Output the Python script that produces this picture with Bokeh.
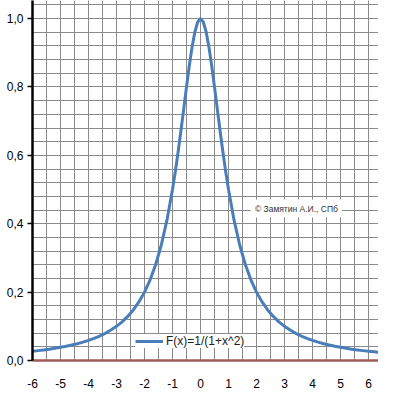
from bokeh.plotting import figure
from bokeh.models import FixedTicker, CustomJSTickFormatter, Legend, LegendItem, Label, Range1d
from bokeh.embed import file_html
from bokeh.resources import INLINE

# Data: F(x) = 1/(1+x^2)
x_vals = [-6.0, -5.8, -5.6, -5.4, -5.2, -5.0, -4.8, -4.6, -4.4, -4.2, -4.0, -3.8, -3.6, -3.4,
          -3.2, -3.0, -2.8, -2.6, -2.4, -2.2, -2.0, -1.8, -1.6, -1.4, -1.2, -1.0, -0.9, -0.8,
          -0.7, -0.6, -0.5, -0.4, -0.3, -0.2, -0.1, 0.0, 0.1, 0.2, 0.3, 0.4, 0.5, 0.6, 0.7,
          0.8, 0.9, 1.0, 1.2, 1.4, 1.6, 1.8, 2.0, 2.2, 2.4, 2.6,
          2.8, 3.0, 3.2, 3.4, 3.6, 3.8, 4.0, 4.2, 4.4, 4.6, 4.8, 5.0, 5.2, 5.4, 5.6, 5.8,
          6.0, 6.2, 6.4, 6.6, 6.8]
y_vals = [0.0270, 0.0289, 0.0309, 0.0332, 0.0357, 0.0385, 0.0416, 0.0451, 0.0491, 0.0536,
          0.0588, 0.0648, 0.0716, 0.0796, 0.0890, 0.1000, 0.1131, 0.1289, 0.1479, 0.1712,
          0.2000, 0.2358, 0.2809, 0.3378, 0.4098, 0.5000, 0.5525, 0.6098, 0.6711, 0.7353,
          0.8000, 0.8621, 0.9174, 0.9615, 0.9901, 1.0000, 0.9901, 0.9615, 0.9174, 0.8621,
          0.8000, 0.7353, 0.6711, 0.6098, 0.5525, 0.5000, 0.4098, 0.3378, 0.2809, 0.2358,
          0.2000, 0.1712, 0.1479, 0.1289, 0.1131, 0.1000, 0.0890, 0.0796, 0.0716, 0.0648,
          0.0588, 0.0536, 0.0491, 0.0451, 0.0416, 0.0385, 0.0357, 0.0332, 0.0309, 0.0289,
          0.0270, 0.0254, 0.0238, 0.0224, 0.0212]

x_major = [-6, -5, -4, -3, -2, -1, 0, 1, 2, 3, 4, 5, 6]
x_minor = [-6 + 0.5 * i for i in range(27)]
y_major = [0.0, 0.2, 0.4, 0.6, 0.8, 1.0]
y_minor = [0.04 * i for i in range(27)]
series_label = "F(x)=1/(1+x^2)"
watermark = "© Замятин А.И., СПб"

FONT = "Liberation Sans"

p = figure(width=378, height=397, output_backend="svg", toolbar_location=None,
           x_range=Range1d(-6, 6.357), y_range=Range1d(0, 1.053),
           min_border_left=32, min_border_right=0, min_border_top=0, min_border_bottom=37)
p.outline_line_color = None
p.background_fill_color = "white"
p.border_fill_color = "white"

# grid
p.xaxis.ticker = FixedTicker(ticks=x_major, minor_ticks=x_minor)
p.yaxis.ticker = FixedTicker(ticks=y_major, minor_ticks=y_minor)
for g in (p.xgrid, p.ygrid):
    g.grid_line_color = "#8a8a8a"
    g.grid_line_width = 1
    g.minor_grid_line_color = "#8a8a8a"
    g.minor_grid_line_width = 1

# y axis
yax = p.yaxis[0]
yax.axis_line_color = "black"
yax.axis_line_width = 2.5
yax.major_tick_line_color = "black"
yax.major_tick_line_width = 1.5
yax.major_tick_out = 5
yax.major_tick_in = 0
yax.minor_tick_line_color = None
yax.major_label_text_font = FONT
yax.major_label_text_font_size = "12px"
yax.major_label_text_color = "black"
yax.major_label_standoff = 4
yax.formatter = CustomJSTickFormatter(code="return tick.toFixed(1).replace('.', ',');")

# x axis
xax = p.xaxis[0]
xax.axis_line_color = "#a05a58"
xax.axis_line_width = 2.5
xax.major_tick_line_color = None
xax.minor_tick_line_color = None
xax.major_label_text_font = FONT
xax.major_label_text_font_size = "12px"
xax.major_label_text_color = "black"
xax.major_label_standoff = 12
xax.formatter = CustomJSTickFormatter(code="return tick.toFixed(0);")

r = p.line(x_vals, y_vals, line_color="#4a7ebb", line_width=3, line_join="round")

legend = Legend(items=[LegendItem(label=series_label, renderers=[r])],
                location=(103, 12), orientation="vertical",
                background_fill_color="white", background_fill_alpha=1.0,
                border_line_color=None, padding=2, margin=0, spacing=0,
                glyph_width=28, glyph_height=14, label_standoff=3,
                label_text_font=FONT, label_text_font_size="12px",
                label_text_color="#222222", label_height=14)
p.add_layout(legend)

wm = Label(x=1.80, y=0.418, text=watermark, text_font=FONT, text_font_size="8.5px",
           text_color="#333333", background_fill_color="white", background_fill_alpha=1.0,
           padding=4)
p.add_layout(wm)

open("out.html", "w").write(file_html(p, INLINE))
